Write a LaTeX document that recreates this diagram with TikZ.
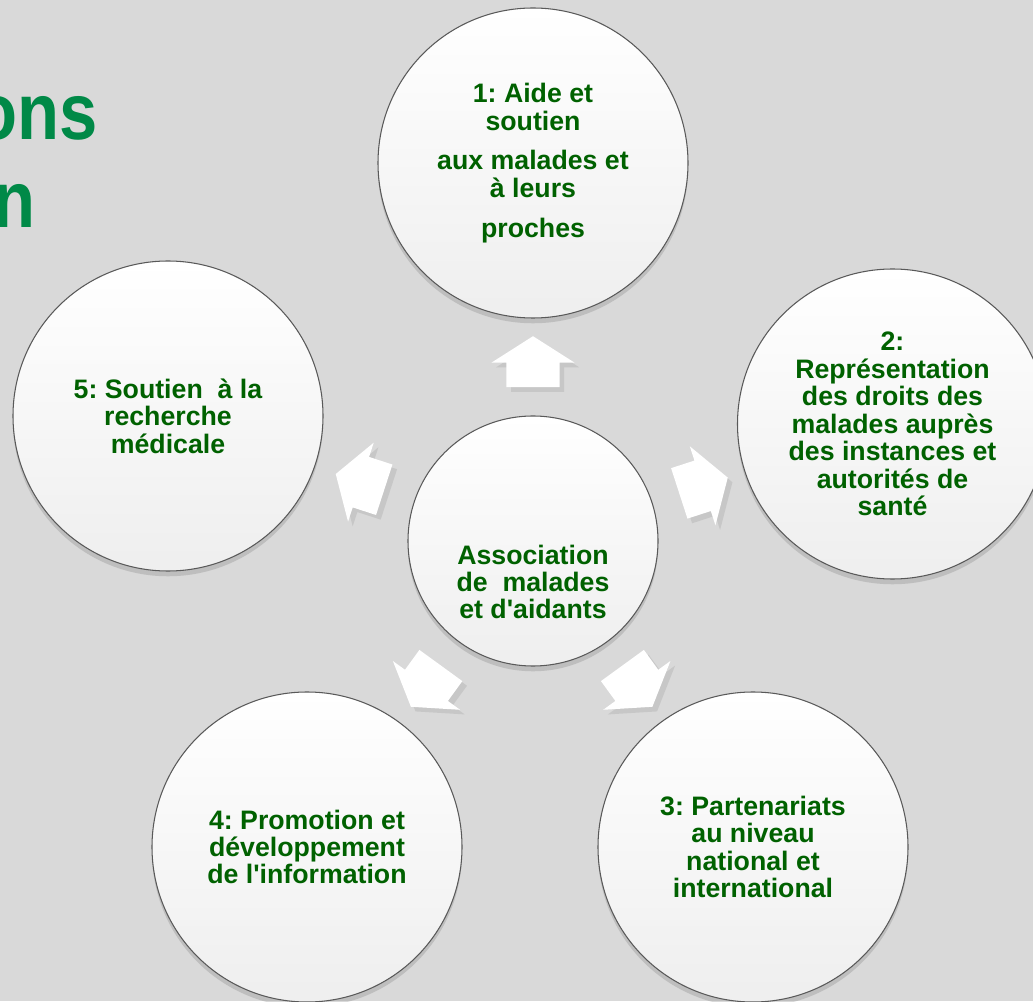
\documentclass[tikz,border=0pt]{standalone}
\usepackage{fontspec}
\setmainfont{Liberation Sans}
\usetikzlibrary{shapes.arrows,shadows,calc}
\definecolor{bggray}{RGB}{217,217,217}
\definecolor{darkgreen}{RGB}{0,97,0}
\definecolor{titlegreen}{RGB}{0,137,71}
\frenchspacing

\begin{document}
\begin{tikzpicture}[line width=0.6pt]
\tikzstyle{bubble}=[circle,draw=gray!70!black,top color=white,bottom color=gray!13,minimum size=6.2cm,inner sep=0pt,
  drop shadow={shadow xshift=0pt,shadow yshift=-3pt,opacity=0.3}];
\tikzstyle{lbl}=[text=darkgreen,align=center,font=\fontsize{15.2}{15.6}\selectfont\bfseries];
\tikzstyle{push}=[single arrow,fill=white,draw=none,inner xsep=0pt,inner ysep=0.52cm,minimum height=1.02cm,
  single arrow head extend=0.3cm,single arrow tip angle=115,drop shadow={opacity=0.2}];
\tikzstyle{title}=[text=titlegreen,inner sep=0pt,anchor=base east,font=\fontsize{45.5}{50}\selectfont\bfseries];

\useasboundingbox (0,0) rectangle (20.66,20.02);
\fill [bggray] (0,0) rectangle (20.66,20.02);

\node [title] (t1) at (1.96,17.22) {\scalebox{0.86}[1]{ons}};
\node [title] (t2) at (0.72,15.46) {\scalebox{0.86}[1]{n}};

\node [bubble,minimum size=5cm] (hub) at (10.66,9.20) {};
\node [lbl] (hubtxt) at (10.66,8.38) {Association\\de~ malades\\et d\textquotesingle aidants};

\node [bubble,lbl] (aide) at (10.66,16.76) {1: Aide et\\soutien\\[7pt]aux malades et\\à leurs\\[7pt]proches};
\node [bubble,lbl] (droits) at (17.85,11.54) {2:\\Représentation\\des droits des\\malades auprès\\des instances et\\autorités de\\santé};
\node [bubble,lbl] (parten) at (15.06,3.08) {3: Partenariats\\au niveau\\national et\\international};
\node [bubble,lbl] (promo) at (6.14,3.08) {4: Promotion et\\développement\\de l\textquotesingle information};
\node [bubble,lbl] (recher) at (3.36,11.70) {5: Soutien~ à la\\recherche\\médicale};

\node [push,rotate=90] (p1) at ($(hub)!0.452!(aide)$) {};
\node [push,rotate=18] (p2) at ($(hub)!0.452!(droits)$) {};
\node [push,rotate=-54] (p3) at ($(hub)!0.452!(parten)$) {};
\node [push,rotate=-126] (p4) at ($(hub)!0.452!(promo)$) {};
\node [push,rotate=162] (p5) at ($(hub)!0.452!(recher)$) {};
\end{tikzpicture}
\end{document}
